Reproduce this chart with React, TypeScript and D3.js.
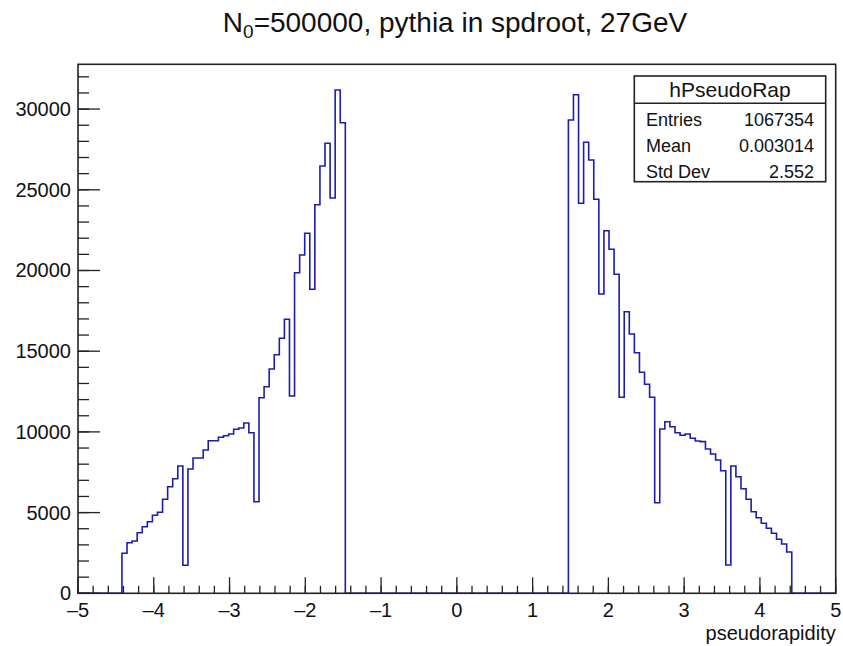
import React from "react";
import * as d3 from "d3";

// ---- data ----
const leftStart = -4.42;
const rightStart = 1.472;
const binWidth = 0.067;
const leftCounts = [
  2478, 3135, 3240, 3755, 4126, 4436, 4832, 5018, 5824, 6604, 7100, 7887, 1735, 7701,
  8382, 8382, 8878, 9454, 9454, 9665, 9764, 9869, 10160, 10241, 10551, 9950, 5675,
  12118, 12800, 13896, 14782, 15798, 16975, 12224, 19863, 20959, 22303, 18834, 24075,
  26473, 27879, 24490, 31182, 29156,
];
const rightCounts = [
  29323, 30891, 24162, 27941, 26845, 24410, 18543, 22465, 21312, 19763, 12143, 17446,
  16065, 14906, 13692, 12948, 12143, 5613, 10179, 10631, 10321, 9950, 9789, 9869, 9603,
  9436, 9400, 8940, 8630, 8258, 7596, 1753, 7887, 7224, 6481, 5824, 5056, 4684, 4337,
  4027, 3717, 3345, 3054, 2559,
];
const xTicks = [-5, -4, -3, -2, -1, 0, 1, 2, 3, 4, 5];
const yTicks = [0, 5000, 10000, 15000, 20000, 25000, 30000];
const titleMain = "N";
const titleSub = "0";
const titleRest = "=500000, pythia in spdroot, 27GeV";
const xTitle = "pseudorapidity";
const statsName = "hPseudoRap";
const statsLabels = ["Entries", "Mean", "Std Dev"];
const statsValues = ["1067354", "0.003014", "2.552"];

const W = 843;
const H = 646;
const FONT = "'Liberation Sans', Arial, Helvetica, sans-serif";
const frame = { left: 78, right: 835.7, top: 64.3, bottom: 593.3 };
const yMax = 32775;

export default function App() {
  const x = d3.scaleLinear().domain([-5, 5]).range([frame.left, frame.right]);
  const y = d3.scaleLinear().domain([0, yMax]).range([frame.bottom, frame.top]);

  // build step path
  const pts: [number, number][] = [];
  pts.push([x(-5), y(0)]);
  const addPart = (start: number, counts: number[]) => {
    pts.push([x(start), y(0)]);
    counts.forEach((c, i) => {
      pts.push([x(start + i * binWidth), y(c)]);
      pts.push([x(start + (i + 1) * binWidth), y(c)]);
    });
    pts.push([x(start + counts.length * binWidth), y(0)]);
  };
  addPart(leftStart, leftCounts);
  addPart(rightStart, rightCounts);
  pts.push([x(5), y(0)]);
  const line = d3.line();
  const histPath = line(pts) || "";

  const xMinor = d3.range(-50, 51, 2).map((v) => v / 10);
  const yMinor = d3.range(0, 33000, 1000);

  const axisColor = "#222";
  const sx = 634.3, sy = 76, sw = 191.4, sh = 105.7;

  return (
    <svg width={W} height={H} style={{ position: "absolute", left: 0, top: 0, background: "#fff" }} fontFamily={FONT}>
      <rect x={0} y={0} width={W} height={H} fill="#fff" />
      {/* title */}
      <text x={455} y={31.5} fontSize={28} textAnchor="middle" fill="#111">
        {titleMain}
        <tspan fontSize={19} dy={6}>{titleSub}</tspan>
        <tspan dy={-6}>{titleRest}</tspan>
      </text>

      {/* histogram */}
      <path d={histPath} fill="none" stroke="#1c1cb0" strokeWidth={1.6} />

      {/* frame */}
      <rect x={frame.left} y={frame.top} width={frame.right - frame.left} height={frame.bottom - frame.top}
        fill="none" stroke={axisColor} strokeWidth={1.6} />

      {/* x ticks */}
      {xMinor.map((v, i) => (
        <line key={"xm" + i} x1={x(v)} x2={x(v)} y1={y(0)} y2={y(0) - 7.5} stroke={axisColor} strokeWidth={1.3} />
      ))}
      {xTicks.map((v) => (
        <g key={"xt" + v}>
          <line x1={x(v)} x2={x(v)} y1={y(0)} y2={y(0) - 16} stroke={axisColor} strokeWidth={1.3} />
          <text x={x(v)} y={617} fontSize={20} textAnchor="middle" fill="#111">
            {v < 0 ? "\u2013" + Math.abs(v) : String(v)}
          </text>
        </g>
      ))}

      {/* y ticks */}
      {yMinor.map((v) => (
        <line key={"ym" + v} x1={x(-5)} x2={x(-5) + 11} y1={y(v)} y2={y(v)} stroke={axisColor} strokeWidth={1.3} />
      ))}
      {yTicks.map((v) => (
        <g key={"yt" + v}>
          <line x1={x(-5)} x2={x(-5) + 22} y1={y(v)} y2={y(v)} stroke={axisColor} strokeWidth={1.3} />
          <text x={71} y={y(v) + 7} fontSize={20} textAnchor="end" fill="#111">{String(v)}</text>
        </g>
      ))}

      {/* x title */}
      <text x={frame.right} y={640} fontSize={20} textAnchor="end" fill="#111">{xTitle}</text>

      {/* stats box */}
      <rect x={sx} y={sy} width={sw} height={sh} fill="#fff" stroke={axisColor} strokeWidth={1.6} />
      <line x1={sx} x2={sx + sw} y1={103.3} y2={103.3} stroke={axisColor} strokeWidth={1.6} />
      <text x={sx + sw / 2} y={97} fontSize={21} textAnchor="middle" fill="#111">{statsName}</text>
      {statsLabels.map((l, i) => (
        <g key={l}>
          <text x={646} y={126 + i * 26} fontSize={18} fill="#111">{l}</text>
          <text x={814} y={126 + i * 26} fontSize={18} textAnchor="end" fill="#111">{statsValues[i]}</text>
        </g>
      ))}
    </svg>
  );
}
